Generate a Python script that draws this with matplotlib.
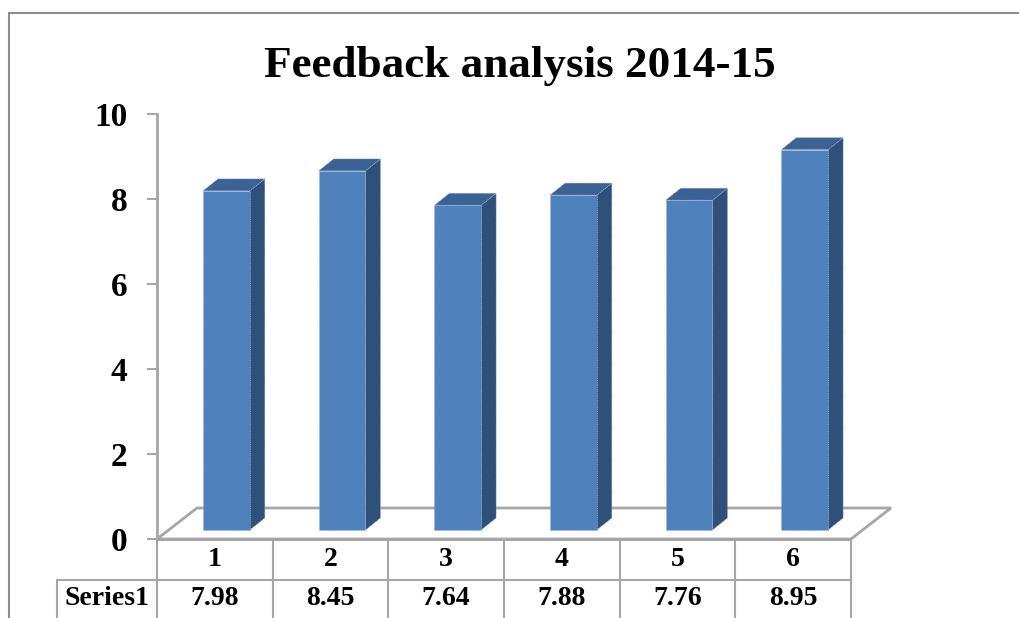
import matplotlib
matplotlib.use('Agg')
import matplotlib.pyplot as plt
from matplotlib.patches import Polygon, Rectangle

# --- data ---
title = "Feedback analysis 2014-15"
categories = ['1', '2', '3', '4', '5', '6']
values = [7.98, 8.45, 7.64, 7.88, 7.76, 8.95]
series_name = 'Series1'
y_ticks = [0, 2, 4, 6, 8, 10]

# --- style ---
front_col = '#4F81BD'
top_col = '#3C6194'
side_col = '#2F5079'
grid_grey = '#A6A6A6'
serif = 'Liberation Serif'

W, H = 1020, 618
fig = plt.figure(figsize=(W / 100, H / 100), dpi=100)

# plot area in pixels: x 157..851, y(0)=539, y(10)=114
left, right, y0px, y10px = 157, 851, 539, 114
ax = fig.add_axes([left / W, 1 - y0px / H, (right - left) / W, (y0px - y10px) / H])
n = len(categories)
ax.set_xlim(0, n)
ax.set_ylim(0, 10)

px_x = (right - left) / n          # pixels per category
px_y = (y0px - y10px) / 10         # pixels per unit

# 3d offsets (in data units)
fdx, fdy = 40 / px_x, 31 / px_y     # floor depth
bdx, bdy = 15 / px_x, 12 / px_y     # bar depth
base = 9 / px_y                     # bar front sits a bit above floor front edge
bar_w = 0.405
shift = 0.10

# floor
floor = Polygon([(0, 0), (n, 0), (n + fdx, fdy), (fdx, fdy)],
                closed=True, facecolor='white', edgecolor=grid_grey, lw=2, clip_on=False, zorder=1)
ax.add_patch(floor)

# bars
edge_kw = dict(edgecolor='#9DB4D6', lw=0.6, ls=':', clip_on=False)
for i, v in enumerate(values):
    L = i + 0.5 + shift - bar_w / 2
    R = L + bar_w
    T = base + v
    side = Polygon([(R, base), (R + bdx, base + bdy), (R + bdx, T + bdy), (R, T)],
                   closed=True, facecolor=side_col, zorder=3, **edge_kw)
    top = Polygon([(L, T), (R, T), (R + bdx, T + bdy), (L + bdx, T + bdy)],
                  closed=True, facecolor=top_col, zorder=3, **edge_kw)
    front = Rectangle((L, base), bar_w, v, facecolor=front_col, zorder=4, **edge_kw)
    for p in (side, top, front):
        ax.add_patch(p)

# axes styling
for s in ['top', 'right', 'bottom']:
    ax.spines[s].set_visible(False)
ax.spines['left'].set_color(grid_grey)
ax.spines['left'].set_linewidth(2)
ax.set_xticks([])
ax.set_yticks(y_ticks)
ax.set_yticklabels([str(t) for t in y_ticks])
ax.tick_params(axis='y', direction='out', length=7.5, width=1.5, color=grid_grey, pad=14)
for lab in ax.get_yticklabels():
    lab.set_fontfamily(serif)
    lab.set_fontweight('bold')
    lab.set_fontsize(24)
ax.patch.set_alpha(0)

# data table below the floor (rows 40 px high)
row_top = -1 / px_y
row_mid = row_top - 40 / px_y
row_bot = row_mid - 42 / px_y
lab_left = -100 / px_x
line_kw = dict(color=grid_grey, lw=1.5, clip_on=False, zorder=2)
ax.plot([0, n], [row_top, row_top], **line_kw)
ax.plot([lab_left, n], [row_mid, row_mid], **line_kw)
ax.plot([lab_left, lab_left], [row_mid, row_bot], **line_kw)
for k in range(n + 1):
    ax.plot([k, k], [row_top, row_bot], **line_kw)
txt_kw = dict(ha='center', va='center', fontfamily=serif, fontweight='bold',
              fontsize=20, clip_on=False)
for i, (c, v) in enumerate(zip(categories, values)):
    ax.text(i + 0.5, (row_top + row_mid) / 2, c, **txt_kw)
    ax.text(i + 0.5, (row_mid + row_bot) / 2 + 0.05, '%.2f' % v, **txt_kw)
ax.text(lab_left / 2, (row_mid + row_bot) / 2 + 0.05, series_name, **txt_kw)

# title
fig.text(520 / W, 1 - 66 / H, title, ha='center', va='center',
         fontfamily=serif, fontweight='bold', fontsize=32.5)

# chart border
fig.patches.append(Rectangle((9 / W, -0.2), 1.2, 1.2 - 13 / H, transform=fig.transFigure,
                             fill=False, edgecolor='#8C8C8C', lw=1.5, zorder=0))

fig.savefig('out.png', dpi=100)
